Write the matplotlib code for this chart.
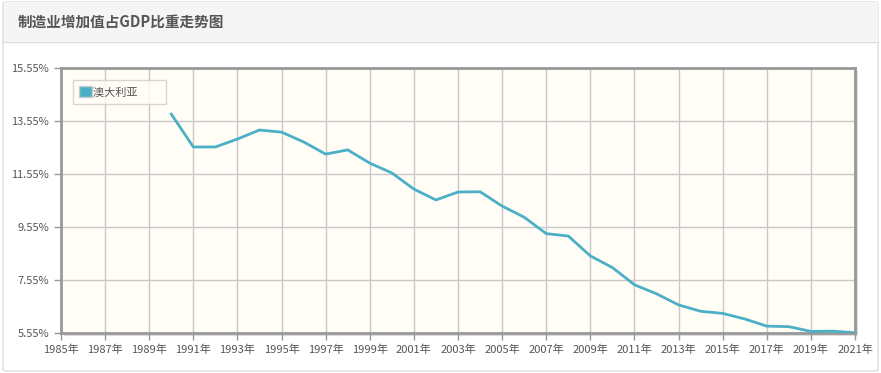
import matplotlib.pyplot as plt
from matplotlib.patches import FancyBboxPatch, Rectangle

plt.rcParams['font.family'] = ['Noto Sans CJK SC', 'DejaVu Sans']

years = list(range(1990, 2022))
share = [13.81, 12.57, 12.57, 12.87, 13.21, 13.13, 12.76, 12.30, 12.46, 11.96,
         11.59, 10.98, 10.57, 10.87, 10.88, 10.34, 9.92, 9.30, 9.21, 8.46,
         8.02, 7.37, 7.03, 6.61, 6.37, 6.29, 6.08, 5.81, 5.79, 5.61,
         5.62, 5.56]
x_ticks = list(range(1985, 2022, 2))
y_ticks = [5.55, 7.55, 9.55, 11.55, 13.55, 15.55]
series_name = '澳大利亚'
title = '制造业增加值占GDP比重走势图'

line_color = '#4bb0c6'
W, H = 881, 373

fig = plt.figure(figsize=(W / 100, H / 100), dpi=100)
fig.patch.set_facecolor('white')

# outer panel + header band
panel = FancyBboxPatch((3 / W, 2 / H), 875 / W, 369 / H,
                       boxstyle='round,pad=0,rounding_size=0.004',
                       transform=fig.transFigure, facecolor='white',
                       edgecolor='#dddddd', linewidth=1, zorder=-3)
fig.patches.append(panel)
fig.patches.append(Rectangle((3.5 / W, (H - 42) / H), 874 / W, 40 / H,
                             transform=fig.transFigure, facecolor='#f5f5f5',
                             edgecolor='none', zorder=-2))
fig.lines.append(plt.Line2D([3 / W, 878 / W], [(H - 42) / H] * 2,
                            transform=fig.transFigure, color='#dddddd',
                            linewidth=1, zorder=-2))
fig.text(18 / W, (H - 22) / H, title, fontsize=10.5, fontweight='bold',
         color='#555555', va='center', ha='left')

left, right, top, bottom = 61, 855, 68, 333
ax = fig.add_axes([left / W, (H - bottom) / H, (right - left) / W, (bottom - top) / H])

# shadow behind the frame
fig.patches.append(Rectangle(((left + 3) / W, (H - bottom - 3) / H),
                             (right - left) / W, (bottom - top) / H,
                             transform=fig.transFigure, facecolor='#dcdcdc',
                             edgecolor='none', zorder=-1))

ax.set_facecolor('#fffdf6')
ax.plot(years, share, color=line_color, linewidth=2, zorder=3)

ax.set_xlim(1985, 2021)
ax.set_ylim(5.55, 15.55)
ax.set_xticks(x_ticks)
ax.set_xticklabels([f'{y}年' for y in x_ticks])
ax.set_yticks(y_ticks)
ax.set_yticklabels([f'{v:.2f}%' for v in y_ticks])
ax.grid(True, color='#c8c8c8', linewidth=1)
ax.set_axisbelow(True)
ax.tick_params(colors='#999999', labelcolor='#555555', labelsize=8, length=5, width=1)
for s in ax.spines.values():
    s.set_color('#999999')
    s.set_linewidth(2)

leg = ax.legend([Rectangle((0, 0), 1, 1, facecolor=line_color, edgecolor='#cccccc')],
                [series_name], loc='upper left', bbox_to_anchor=(0.015, 0.955),
                borderaxespad=0, fontsize=8, frameon=True, fancybox=False,
                handlelength=1.2, handleheight=1.2, handletextpad=0.05,
                borderpad=0.55, labelcolor='#555555')
leg.get_frame().set_edgecolor('#cccccc')
leg.get_frame().set_facecolor('#fffdf6')
leg.get_frame().set_linewidth(1)
# widen the legend frame to the reference's empty box
for t in leg.get_texts():
    t.set_text(series_name + '         ')

fig.savefig('out.png', dpi=100)
